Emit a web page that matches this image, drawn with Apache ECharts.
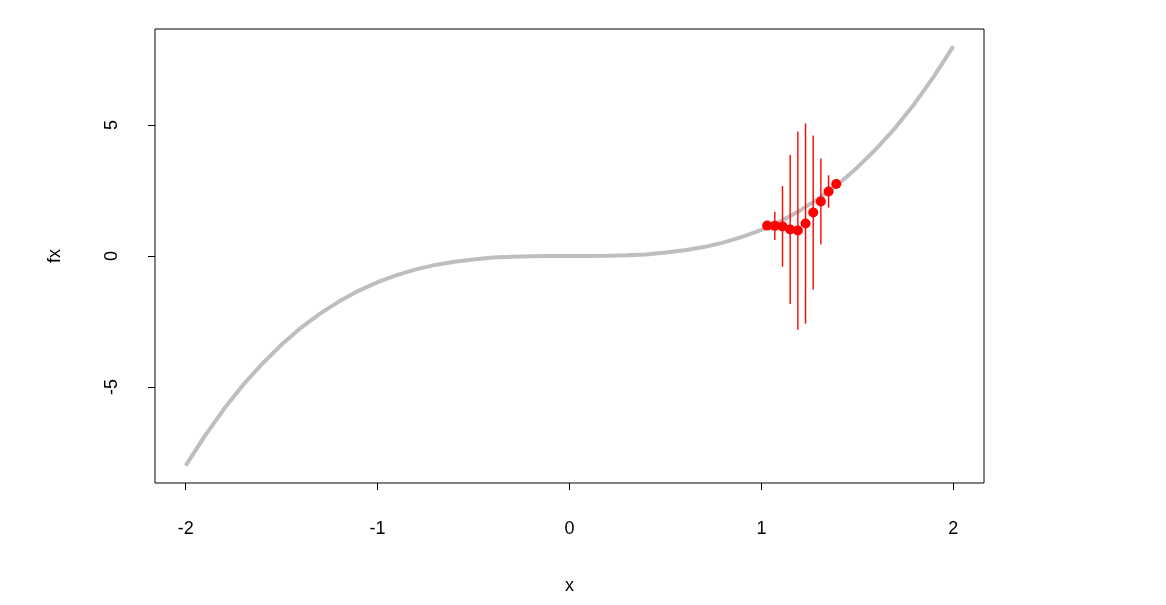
<!DOCTYPE html>
<html><head><meta charset="utf-8">
<script src="https://cdn.jsdelivr.net/npm/echarts@6/dist/echarts.min.js"></script>
<style>html,body{margin:0;padding:0;background:#fff}#c{width:1166px;height:605px}</style>
</head><body><div id="c"></div>
<script>
// gray curve
const curveX = [-2,-1.9,-1.8,-1.7,-1.6,-1.5,-1.4,-1.3,-1.2,-1.1,-1,-0.9,-0.8,-0.7,-0.6,-0.5,-0.4,-0.3,-0.2,-0.1,0,0.1,0.2,0.3,0.4,0.5,0.6,0.7,0.8,0.9,1,1.1,1.2,1.3,1.4,1.5,1.6,1.7,1.8,1.9,2];
const curveY = [-8,-6.86,-5.83,-4.91,-4.1,-3.38,-2.74,-2.2,-1.73,-1.33,-1,-0.73,-0.51,-0.34,-0.22,-0.13,-0.06,-0.03,-0.01,0,0,0,0.01,0.03,0.06,0.13,0.22,0.34,0.51,0.73,1,1.33,1.73,2.2,2.74,3.38,4.1,4.91,5.83,6.86,8];
// red points with error bars
const ptX = [1.03,1.07,1.11,1.15,1.19,1.23,1.27,1.31,1.35,1.39];
const ptY = [1.16,1.15,1.13,1.01,0.97,1.24,1.66,2.08,2.46,2.75];
const ptErr = [0.12,0.54,1.54,2.84,3.78,3.82,2.94,1.64,0.62,0.12];
const xTicks = [-2,-1,0,1,2];
const yTicks = [-5,0,5];

const chart = echarts.init(document.getElementById('c'), null, {renderer:'canvas'});
const font = {fontFamily:'Liberation Sans, Arial, sans-serif', fontSize:18, color:'#000'};
chart.setOption({
  animation:false,
  backgroundColor:'#fff',
  grid:{left:155, right:182, top:29, bottom:122, show:true, borderColor:'#000', borderWidth:1, containLabel:false},
  xAxis:{type:'value', min:-2.16, max:2.16, name:'x', nameLocation:'middle', nameGap:94,
    nameTextStyle:Object.assign({}, font),
    axisLine:{show:false, onZero:false}, splitLine:{show:false},
    axisTick:{show:true, length:7, inside:false, customValues:xTicks, lineStyle:{color:'#000', width:1}},
    axisLabel:Object.assign({customValues:xTicks, margin:37, formatter:v=>String(v)}, font)},
  yAxis:{type:'value', min:-8.66, max:8.66, name:'fx', nameLocation:'middle', nameGap:91, nameRotate:90,
    nameTextStyle:Object.assign({}, font),
    axisLine:{show:false, onZero:false}, splitLine:{show:false},
    axisTick:{show:true, length:7, inside:false, customValues:yTicks, lineStyle:{color:'#000', width:1}},
    axisLabel:Object.assign({customValues:yTicks, margin:34, rotate:90, formatter:v=>String(v)}, font)},
  series:[
    {type:'line', data:curveX.map((x,i)=>[x,curveY[i]]), showSymbol:false, symbol:'none',
     lineStyle:{color:'#bebebe', width:4}, z:2},
    {type:'custom', data:ptX.map((x,i)=>[x,ptY[i],ptErr[i]]), z:3,
     renderItem:function(params, api){
       const x=api.value(0), y=api.value(1), e=api.value(2);
       const p1=api.coord([x,y-e]), p2=api.coord([x,y+e]);
       return {type:'line', shape:{x1:p1[0],y1:p1[1],x2:p2[0],y2:p2[1]}, style:{stroke:'#ff0000', lineWidth:1.4}};
     }},
    {type:'scatter', data:ptX.map((x,i)=>[x,ptY[i]]), symbol:'circle', symbolSize:10,
     itemStyle:{color:'#ff0000', opacity:1}, z:4}
  ]
});
</script></body></html>
